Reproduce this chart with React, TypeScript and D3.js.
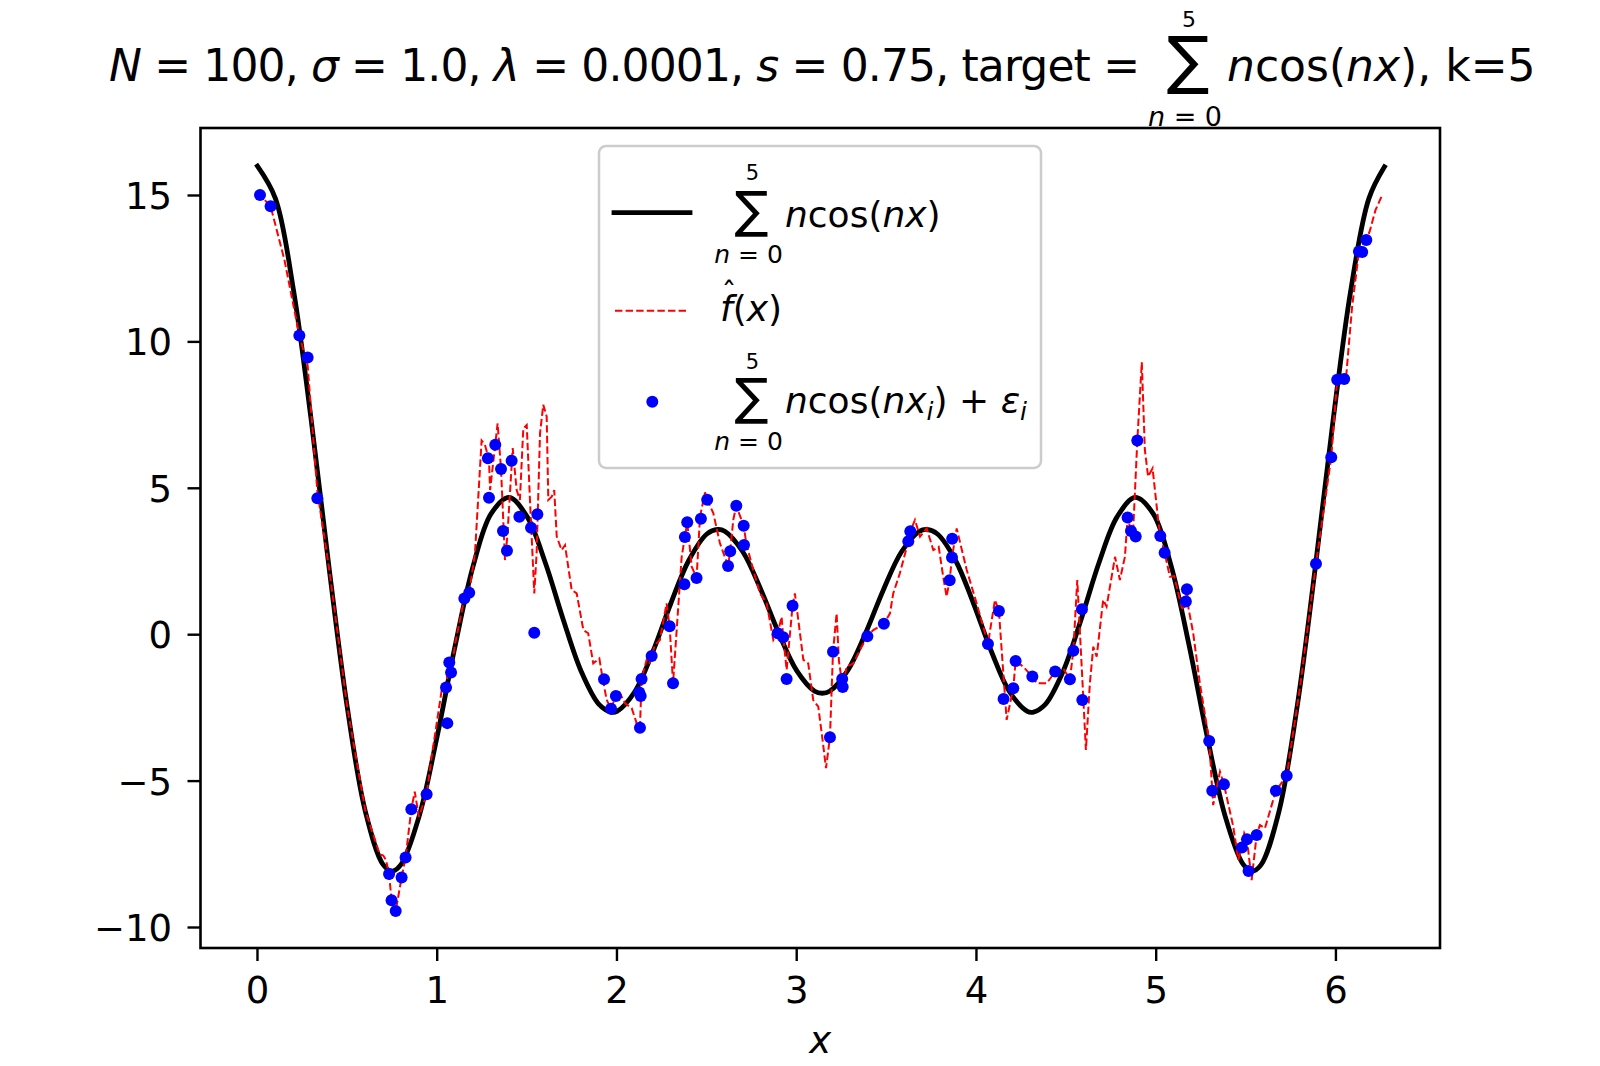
import React from "react";
import * as d3 from "d3";

const WIDTH = 1600;
const HEIGHT = 1066;
const FONT = "DejaVu Sans";

// axes box in pixels
const frame = { left: 200.5, right: 1440, top: 128, bottom: 948 };

const xDomain: [number, number] = [-0.317, 6.579];
const yDomain: [number, number] = [-10.7, 17.305];
const xTicks = [0, 1, 2, 3, 4, 5, 6];
const yTicks = [-10, -5, 0, 5, 10, 15];

// target curve sum n*cos(n x)
const targetX = [
  0, 0.1, 0.2, 0.3, 0.4, 0.5, 0.6, 0.7, 0.75, 0.8,
  0.9, 1.0, 1.1, 1.2, 1.3, 1.4, 1.5, 1.6, 1.7, 1.8,
  1.9, 1.97, 2.0, 2.1, 2.2, 2.3, 2.4, 2.5, 2.56, 2.6,
  2.7, 2.8, 2.9, 3.0, 3.1, 3.1416,
  3.1832, 3.2832, 3.3832, 3.4832, 3.5832, 3.6832, 3.7232, 3.7832, 3.8832, 3.9832,
  4.0832, 4.1832, 4.2832, 4.3132, 4.3832, 4.4832, 4.5832, 4.6832, 4.7832, 4.8832,
  4.9832, 5.0832, 5.1832, 5.2832, 5.3832, 5.4832, 5.5332, 5.5832, 5.6832, 5.7832,
  5.8832, 5.9832, 6.0832, 6.1832, 6.27,
];
const targetY = [
  16, 14.893, 11.787, 7.275, 2.204, -2.5, -6.031, -7.861, -8.074, -7.835,
  -6.186, -3.458, -0.372, 2.348, 4.133, 4.687, 4.032, 2.482, 0.539, -1.239,
  -2.382, -2.65, -2.62, -1.941, -0.575, 1.074, 2.543, 3.439, 3.598, 3.535,
  2.832, 1.547, 0.053, -1.226, -1.931, -2,
  -1.931, -1.226, 0.053, 1.547, 2.832, 3.535, 3.598, 3.439, 2.543, 1.074,
  -0.575, -1.941, -2.62, -2.65, -2.382, -1.239, 0.539, 2.482, 4.032, 4.687,
  4.133, 2.348, -0.372, -3.458, -6.186, -7.835, -8.074, -7.861, -6.031, -2.5,
  2.204, 7.275, 11.787, 14.893, 15.98,
];

// fitted f_hat(x)
const fitX = [
  0, 0.014, 0.073, 0.15, 0.233, 0.279, 0.333, 0.4, 0.5, 0.6,
  0.68, 0.7, 0.715, 0.732, 0.746, 0.769, 0.802, 0.824, 0.856, 0.875,
  0.898, 0.941, 0.969, 1.025, 1.049, 1.067, 1.077, 1.1, 1.151, 1.178,
  1.21, 1.247, 1.265, 1.288, 1.294, 1.312, 1.336, 1.355, 1.377, 1.39,
  1.42, 1.442, 1.46, 1.479, 1.498, 1.516, 1.54, 1.553, 1.572, 1.59,
  1.609, 1.618, 1.637, 1.651, 1.665, 1.692, 1.711, 1.748, 1.776, 1.813,
  1.84, 1.868, 1.902, 1.92, 1.943, 1.967, 1.994, 2.007, 2.045, 2.082,
  2.11, 2.128, 2.137, 2.165, 2.18, 2.211, 2.239, 2.276, 2.293, 2.312,
  2.36, 2.378, 2.391, 2.416, 2.443, 2.462, 2.49, 2.502, 2.536, 2.573,
  2.618, 2.63, 2.647, 2.664, 2.705, 2.72, 2.758, 2.796, 2.833, 2.87,
  2.894, 2.916, 2.925, 2.944, 2.977, 2.99, 3.037, 3.064, 3.092, 3.12,
  3.144, 3.163, 3.185, 3.202, 3.222, 3.235, 3.256, 3.278, 3.315, 3.352,
  3.393, 3.426, 3.485, 3.519, 3.537, 3.574, 3.621, 3.632, 3.658, 3.686,
  3.723, 3.76, 3.79, 3.815, 3.834, 3.851, 3.864, 3.89, 3.946, 4.001,
  4.038, 4.064, 4.103, 4.125, 4.168, 4.205, 4.218, 4.26, 4.311, 4.335,
  4.391, 4.438, 4.483, 4.52, 4.539, 4.561, 4.595, 4.609, 4.631, 4.65,
  4.669, 4.705, 4.724, 4.771, 4.798, 4.826, 4.841, 4.87, 4.895, 4.92,
  4.937, 4.955, 4.98, 5.011, 5.023, 5.047, 5.076, 5.1, 5.141, 5.151,
  5.165, 5.171, 5.18, 5.206, 5.243, 5.295, 5.317, 5.355, 5.377, 5.429,
  5.457, 5.477, 5.49, 5.505, 5.531, 5.559, 5.577, 5.605, 5.666, 5.726,
  5.8, 5.889, 5.974, 6.007, 6.046, 6.058, 6.09, 6.128, 6.146, 6.169,
  6.189, 6.22, 6.26,
];
const fitY = [
  15.1, 15.02, 14.63, 12.8, 10.22, 9.2, 4.9, 2.2, -2.5, -6.0,
  -7.5, -7.54, -7.7, -8.17, -9.07, -9.44, -8.29, -7.61, -5.96, -5.36,
  -6.22, -5.45, -4.17, -1.89, -1.8, -0.98, -1.27, -0.3, 1.24, 1.43,
  2.78, 6.63, 6.5, 5.97, 4.94, 5.91, 7.22, 5.66, 2.55, 3.35,
  6.37, 4.94, 4.6, 7.05, 7.16, 4.6, 1.41, 2.78, 6.88, 7.85,
  7.45, 4.6, 4.71, 4.94, 3.35, 2.89, 3.06, 1.53, 1.41, 0.16,
  0.05, -0.98, -0.81, -1.49, -2.23, -2.53, -2.09, -1.89, -2.34, -2.51,
  -3.03, -3.18, -1.51, -0.86, -1.0, -0.35, -0.18, 1.07, 0.29, -1.66,
  2.66, 3.34, 3.84, 2.32, 1.94, 4.03, 4.86, 4.61, 4.15, 3.12,
  2.35, 2.85, 3.92, 4.4, 3.72, 3.1, 2.21, 1.41, 1.07, -0.18,
  0.05, 0.61, -0.09, -1.2, 0.99, 1.41, -0.86, -0.98, -2.23, -2.46,
  -3.6, -4.56, -3.5, -0.58, 0.73, -0.9, -1.79, -1.09, -0.98, -0.52,
  -0.05, 0.16, 0.37, 0.73, 1.41, 2.1, 3.19, 3.53, 3.92, 3.35,
  3.63, 2.89, 3.0, 1.98, 1.3, 1.86, 2.64, 3.63, 2.21, 1.07,
  0.27, -0.32, 1.19, 0.81, -2.91, -1.83, -0.9, -1.09, -1.43, -1.66,
  -1.66, -1.26, -1.15, -1.52, -0.55, 1.87, -2.23, -3.94, -1.66, -0.41,
  -0.75, 1.19, 0.96, 2.66, 1.87, 2.66, 4.0, 3.3, 6.63, 9.3,
  6.31, 5.4, 5.68, 3.92, 3.37, 2.8, 1.98, 2.0, 0.96, 0.84,
  1.13, 1.55, 0.9, 0.05, -1.66, -3.63, -5.82, -4.68, -5.11, -6.56,
  -7.69, -7.27, -6.78, -6.99, -8.38, -6.84, -6.5, -6.61, -5.33, -4.82,
  -1.8, 2.42, 6.06, 8.71, 8.73, 8.9, 11.2, 13.09, 13.07, 13.48,
  13.8, 14.5, 15.05,
];

// noisy samples
const sampleX = [
  0.014, 0.073, 0.233, 0.279, 0.333, 0.732, 0.746, 0.769, 0.802, 0.824,
  0.856, 0.941, 1.049, 1.056, 1.067, 1.077, 1.151, 1.178, 1.282, 1.288,
  1.323, 1.355, 1.366, 1.388, 1.414, 1.457, 1.522, 1.54, 1.557, 1.928,
  1.967, 1.994, 2.124, 2.128, 2.132, 2.137, 2.193, 2.293, 2.312, 2.375,
  2.378, 2.391, 2.443, 2.467, 2.502, 2.618, 2.63, 2.664, 2.705, 2.707,
  2.894, 2.925, 2.944, 2.977, 3.185, 3.202, 3.253, 3.256, 3.393, 3.485,
  3.621, 3.632, 3.851, 3.864, 3.865, 4.064, 4.125, 4.151, 4.205, 4.218,
  4.311, 4.438, 4.52, 4.539, 4.587, 4.589, 4.841, 4.86, 4.886, 4.895,
  5.023, 5.047, 5.165, 5.171, 5.295, 5.312, 5.377, 5.477, 5.505, 5.514,
  5.559, 5.666, 5.726, 5.889, 5.974, 6.007, 6.046, 6.128, 6.146, 6.169,
];
const sampleY = [
  15.02, 14.63, 10.22, 9.47, 4.66, -8.17, -9.07, -9.44, -8.29, -7.61,
  -5.96, -5.45, -1.8, -3.02, -0.95, -1.29, 1.24, 1.43, 6.03, 4.68,
  6.49, 5.66, 3.54, 2.87, 5.94, 4.03, 3.65, 0.07, 4.11, -1.52,
  -2.53, -2.09, -1.97, -3.18, -2.09, -1.51, -0.73, 0.29, -1.66, 1.72,
  3.34, 3.84, 1.94, 3.96, 4.61, 2.35, 2.85, 4.4, 3.72, 3.06,
  0.05, -0.09, -1.51, 0.99, -3.5, -0.58, -1.51, -1.79, -0.05, 0.37,
  3.19, 3.53, 1.86, 2.64, 3.28, -0.32, 0.81, -2.2, -1.83, -0.9,
  -1.43, -1.26, -1.52, -0.55, 0.87, -2.23, 4.0, 3.54, 3.35, 6.63,
  3.37, 2.8, 1.13, 1.55, -3.63, -5.33, -5.11, -7.27, -6.99, -8.07,
  -6.84, -5.33, -4.82, 2.42, 6.06, 8.71, 8.73, 13.09, 13.07, 13.48,
];

const x = d3.scaleLinear().domain(xDomain).range([frame.left, frame.right]);
const y = d3.scaleLinear().domain(yDomain).range([frame.bottom, frame.top]);

const fmt = (v: number) => (v < 0 ? "\u2212" + Math.abs(v) : String(v));

// big summation sign with limits, as mathtext lays it out
const SumSign = (props: {
  cx: number; base: number; size: number;
  supBase: number; subBase: number; supSize: number; subSize: number;
}) => (
  <g fontFamily={FONT} fill="black">
    <text x={props.cx} y={props.base} fontSize={props.size} textAnchor="middle">∑</text>
    <text x={props.cx + 1} y={props.supBase} fontSize={props.supSize} textAnchor="middle">5</text>
    <text x={props.cx - 3} y={props.subBase} fontSize={props.subSize} textAnchor="middle">
      <tspan fontStyle="italic">n</tspan>
      {" = 0"}
    </text>
  </g>
);

const App = () => {
  const targetLine = d3
    .line<number>()
    .x((_, i) => x(targetX[i]))
    .y((d) => y(d))
    .curve(d3.curveCatmullRom)(targetY);

  const fitLine = d3
    .line<number>()
    .x((_, i) => x(fitX[i]))
    .y((d) => y(d))(fitY);

  return (
    <div style={{ position: "absolute", left: 0, top: 0 }}>
      <svg width={WIDTH} height={HEIGHT} fontFamily={FONT}>
        <rect width={WIDTH} height={HEIGHT} fill="white" />

        {/* title */}
        <text x={109} y={81} fontSize={44} textLength={1031} lengthAdjust="spacing">
          <tspan fontStyle="italic">N</tspan>
          {" = 100, "}
          <tspan fontStyle="italic">σ</tspan>
          {" = 1.0, "}
          <tspan fontStyle="italic">λ</tspan>
          {" = 0.0001, "}
          <tspan fontStyle="italic">s</tspan>
          {" = 0.75, target ="}
        </text>
        <SumSign cx={1188} base={82} size={63.5} supBase={27} subBase={126} supSize={22} subSize={27} />
        <text x={1227} y={81} fontSize={44}>
          <tspan fontStyle="italic">n</tspan>
          {"cos("}
          <tspan fontStyle="italic">nx</tspan>
          {"), k=5"}
        </text>

        {/* curves */}
        <path d={targetLine ?? ""} fill="none" stroke="black" strokeWidth={4.8} strokeLinecap="square" />
        <path d={fitLine ?? ""} fill="none" stroke="#ff0000" strokeWidth={2} strokeDasharray="7.4 3.2" />
        {sampleX.map((sx, i) => (
          <circle key={i} cx={x(sx)} cy={y(sampleY[i])} r={6} fill="#0000ff" />
        ))}

        {/* axes frame */}
        <rect
          x={frame.left}
          y={frame.top}
          width={frame.right - frame.left}
          height={frame.bottom - frame.top}
          fill="none"
          stroke="black"
          strokeWidth={2.6}
        />

        {/* x axis */}
        {xTicks.map((t) => (
          <g key={t}>
            <line x1={x(t)} x2={x(t)} y1={frame.bottom} y2={frame.bottom + 13} stroke="black" strokeWidth={2.4} />
            <text x={x(t)} y={1003} fontSize={37} textAnchor="middle">{fmt(t)}</text>
          </g>
        ))}
        <text x={(frame.left + frame.right) / 2} y={1053} fontSize={37} fontStyle="italic" textAnchor="middle">x</text>

        {/* y axis */}
        {yTicks.map((t) => (
          <g key={t}>
            <line x1={frame.left - 13} x2={frame.left} y1={y(t)} y2={y(t)} stroke="black" strokeWidth={2.4} />
            <text x={172} y={y(t) + 13.5} fontSize={37} textAnchor="end">{fmt(t)}</text>
          </g>
        ))}

        {/* legend */}
        <rect x={599} y={146} width={442} height={322} rx={7} fill="white" fillOpacity={0.8} stroke="#cccccc" strokeWidth={2.5} />
        <line x1={614} x2={690} y1={212.7} y2={212.7} stroke="black" strokeWidth={4.8} strokeLinecap="square" />
        <SumSign cx={751.5} base={226.6} size={50.4} supBase={180} subBase={263} supSize={21} subSize={25} />
        <text x={785} y={227} fontSize={36}>
          <tspan fontStyle="italic">n</tspan>
          {"cos("}
          <tspan fontStyle="italic">nx</tspan>
          {")"}
        </text>

        <line x1={615} x2={689} y1={310.7} y2={310.7} stroke="#ff0000" strokeWidth={2} strokeDasharray="7.4 3.2" />
        <text x={729} y={304} fontSize={30} textAnchor="middle">ˆ</text>
        <text x={720} y={321} fontSize={36}>
          <tspan fontStyle="italic">f</tspan>
          {"("}
          <tspan fontStyle="italic">x</tspan>
          {")"}
        </text>

        <circle cx={652.3} cy={401.7} r={6} fill="#0000ff" />
        <SumSign cx={751.5} base={413.6} size={50.4} supBase={369} subBase={450} supSize={21} subSize={25} />
        <text x={785} y={413} fontSize={36}>
          <tspan fontStyle="italic">n</tspan>
          {"cos("}
          <tspan fontStyle="italic">nx</tspan>
          <tspan fontStyle="italic" fontSize={25} dy={7}>i</tspan>
          <tspan dy={-7}>{") + "}</tspan>
          <tspan fontStyle="italic">ε</tspan>
          <tspan fontStyle="italic" fontSize={25} dy={7}>i</tspan>
        </text>
      </svg>
    </div>
  );
};

export default App;
